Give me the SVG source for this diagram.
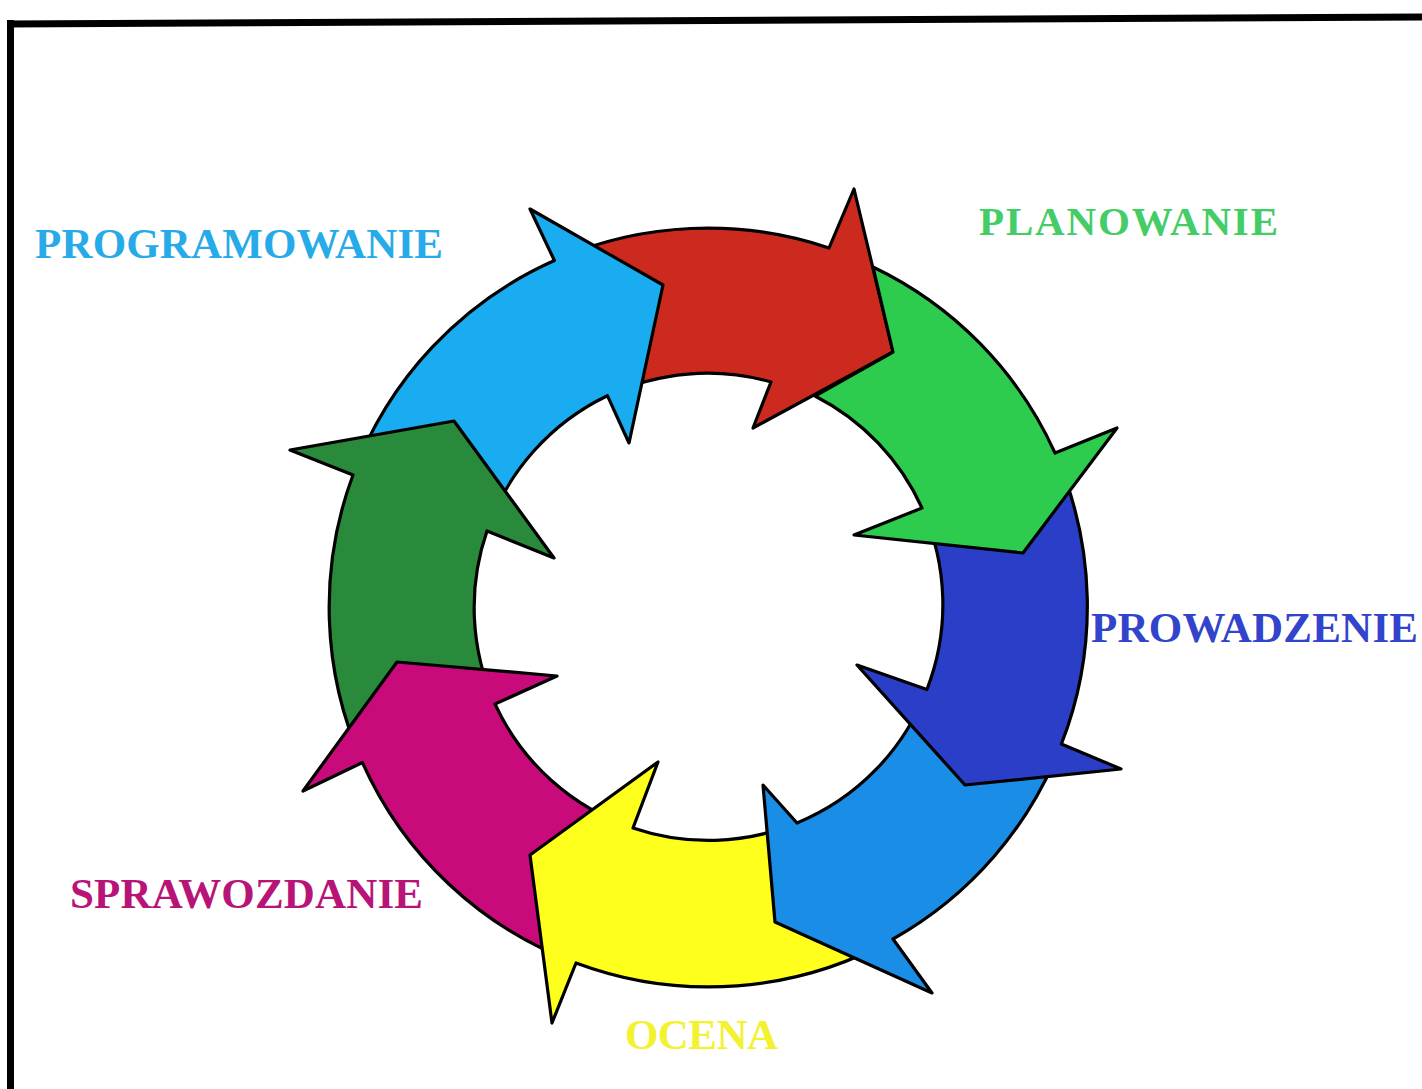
<svg xmlns="http://www.w3.org/2000/svg" width="1422" height="1089" viewBox="0 0 1422 1089">
  <style>
    .arrow { stroke: #000; stroke-width: 3.2; stroke-linejoin: round; }
    .label { font-family: "Liberation Serif", "Times New Roman", serif; font-weight: bold; }
  </style>
  <rect width="1422" height="1089" fill="#fff"/>

  <!-- page frame: top and left rules -->
  <g id="frame" stroke="#000" stroke-width="7" fill="none">
    <line x1="7" y1="24" x2="1422" y2="17"/>
    <line x1="10.5" y1="20" x2="10.5" y2="1089"/>
  </g>

  <!-- ring of curved arrows, centre (708,607), outer r 379, inner r 234 -->
  <g id="connectors">
    <path id="arrow-red" class="arrow" fill="#cc2a1e"
          d="M554.4,260.5 A379,379 0 0 1 829,248 L854,189 L893,352 L753,428 L771,382 A234,234 0 0 0 607.4,395.7 Z"/>
    <path id="arrow-lightblue" class="arrow" fill="#1aacf0"
          d="M353,475 A379,379 0 0 1 554.4,260.5 L530,209 L663,285 L629,443 L607.4,395.7 A234,234 0 0 0 487,531 Z"/>
    <path id="arrow-darkgreen" class="arrow" fill="#2a8a3c"
          d="M362.4,762.5 A379,379 0 0 1 353,475 L290,450 L454,421 L554,558 L487,531 A234,234 0 0 0 495,704 Z"/>
    <path id="arrow-magenta" class="arrow" fill="#c80a7a"
          d="M576,963 A379,379 0 0 1 362.4,762.5 L303,791 L397,662 L557,676 L495,704 A234,234 0 0 0 633,828 Z"/>
    <path id="arrow-yellow" class="arrow" fill="#ffff1e"
          d="M893,939 A379,379 0 0 1 576,963 L552,1023 L530,855 L658,762 L633,828 A234,234 0 0 0 797,823 Z"/>
    <path id="arrow-midblue" class="arrow" fill="#1a8ee6"
          d="M1061.4,744 A379,379 0 0 1 893,939 L932,993 L775,922 L763,785 L797,823 A234,234 0 0 0 926.9,689.5 Z"/>
    <path id="arrow-darkblue" class="arrow" fill="#2a3ec8"
          d="M1055,453 A379,379 0 0 1 1061.4,744 L1121,769 L965,785 L857,665 L926.9,689.5 A234,234 0 0 0 922,508 Z"/>
    <path id="arrow-green" class="arrow" fill="#2ecc4e"
          d="M873,267 A379,379 0 0 1 1055,453 L1117,428 L1023,553 L854,535 L922,508 A234,234 0 0 0 815,396 L893,352 Z"/>
  </g>

  <!-- stage labels -->
  <g id="label-programowanie">
    <text class="label" x="35" y="258" font-size="43" fill="#27aae8" textLength="408" lengthAdjust="spacing">PROGRAMOWANIE</text>
  </g>
  <g id="label-planowanie">
    <text class="label" x="979" y="235" font-size="41" fill="#44cc66" textLength="299" lengthAdjust="spacing">PLANOWANIE</text>
  </g>
  <g id="label-prowadzenie">
    <text class="label" x="1091" y="642" font-size="43" fill="#3344cc" textLength="327" lengthAdjust="spacing">PROWADZENIE</text>
  </g>
  <g id="label-sprawozdanie">
    <text class="label" x="70" y="908" font-size="43" fill="#b81478" textLength="353" lengthAdjust="spacing">SPRAWOZDANIE</text>
  </g>
  <g id="label-ocena">
    <text class="label" x="625" y="1049" font-size="43" fill="#f2f230" textLength="153" lengthAdjust="spacing">OCENA</text>
  </g>
</svg>
